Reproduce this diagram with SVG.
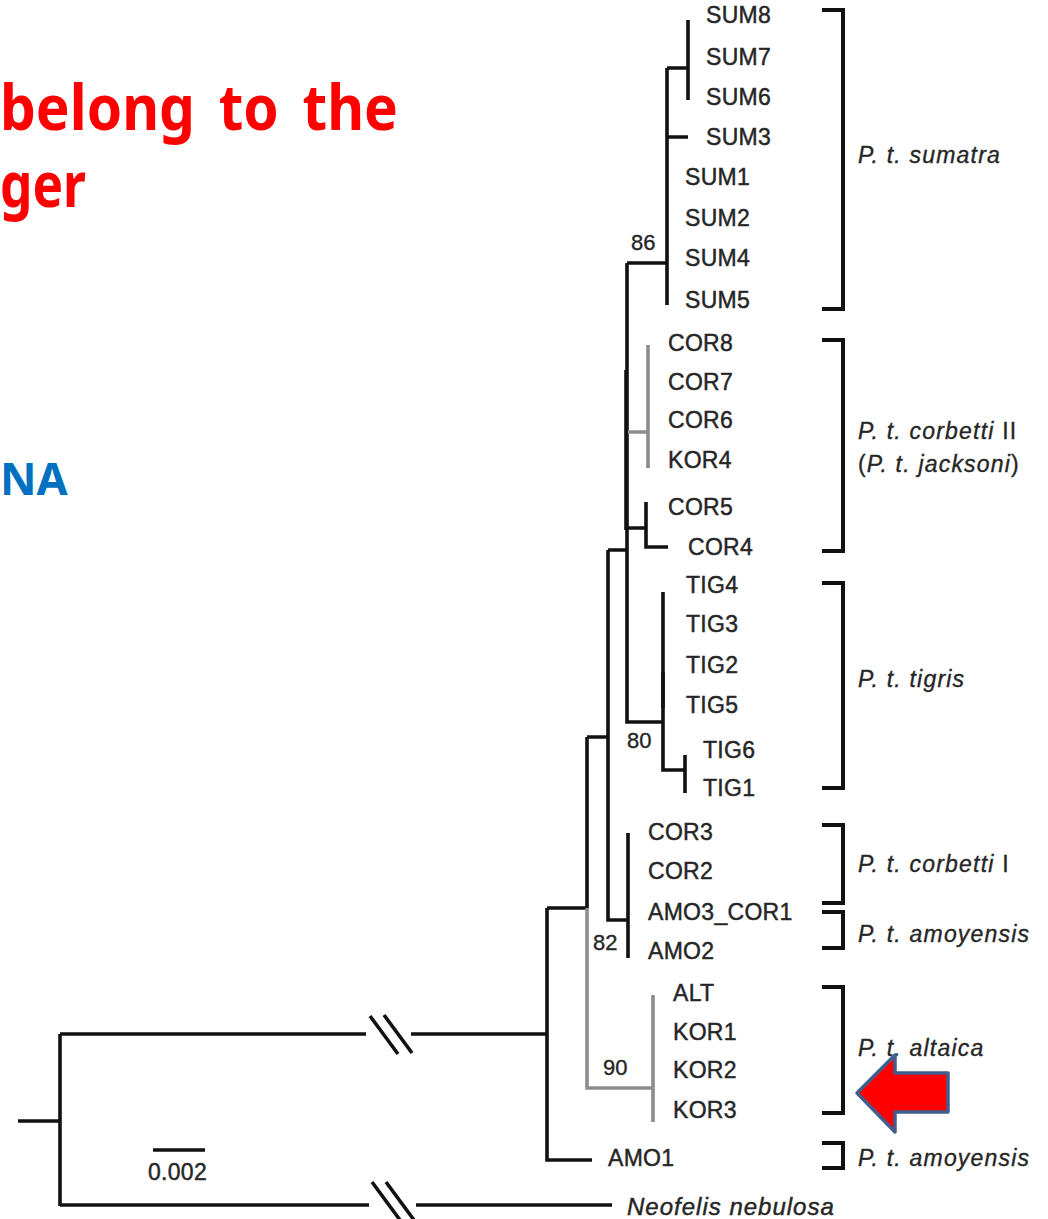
<svg xmlns="http://www.w3.org/2000/svg" width="1048" height="1219" viewBox="0 0 1048 1219">
<style>
.k{stroke:#111111;stroke-width:3.6;fill:none;stroke-linecap:butt;stroke-linejoin:miter}
.g{stroke:#8d8d8d;stroke-width:3.6;fill:none;stroke-linecap:butt}
.bk{stroke:#111111;stroke-width:4;fill:none;stroke-linejoin:miter}
.tx{font-family:"Liberation Sans",Arial,sans-serif;font-size:23px;fill:#262626;stroke:#262626;stroke-width:0.45px;letter-spacing:0.3px}
.sv{font-family:"Liberation Sans",Arial,sans-serif;font-size:22px;fill:#262626;stroke:#262626;stroke-width:0.35px}
.cl{font-family:"Liberation Sans",Arial,sans-serif;font-size:23px;fill:#262626;stroke:#262626;stroke-width:0.35px;font-style:italic;letter-spacing:1.2px}
.up{font-style:normal}
.hd{font-family:"Noto Sans","Liberation Sans",sans-serif;font-weight:bold;fill:#ff0000;font-size:63px}
</style>
<rect width="1048" height="1219" fill="#ffffff"/>

<g id="title">
<text class="hd" x="0" y="130" word-spacing="10" textLength="398" lengthAdjust="spacingAndGlyphs">belong to the</text>
<text class="hd" x="0" y="207" textLength="86" lengthAdjust="spacingAndGlyphs">ger</text>
<text x="0" y="495" font-family="'Noto Sans','Liberation Sans',sans-serif" font-weight="bold" font-size="45" fill="#0070c0">NA</text>
</g>

<g id="connectors">
<path class="k" d="M18,1121 H60 M60,1034 V1206 M60,1034 H366 M411,1034 H547 M60,1205 H369 M416,1205 H612"/>
<path class="k" d="M370,1016 L398,1054 M384,1015 L412,1053 M372,1182 L400,1220 M386,1182 L414,1220"/>
<path class="k" d="M547,908 V1160 H592 M547,908 H587 M587,737 V908 M587,737 H608 M608,550 V920 H628 M628,833 V958 M608,550 H627 M627,263 V722 H663"/>
<path class="g" d="M587,908 V1088 H653 M653,995 V1122"/>
<path class="k" d="M627,263 H667 M667,68 V305 M667,68 H688 M688,20 V100 M667,137 H688"/>
<path class="g" d="M627,432 H648 M648,345 V468"/>
<path class="k" d="M627,528 H646 M646,502 V547 H668"/>
<path class="k" d="M663,592 V770 H685 M685,755 V793"/>
<path class="k" stroke-width="7" d="M626,370 V530"/>
<path class="k" stroke-width="5.5" d="M663,672 V708"/>
<path class="k" stroke-width="4" d="M153,1150 H205"/>
</g>

<g id="support">
<text class="sv" x="631" y="250">86</text>
<text class="sv" x="627" y="748">80</text>
<text class="sv" x="593" y="950">82</text>
<text class="sv" x="603" y="1075">90</text>
<text class="tx" x="148" y="1180">0.002</text>
</g>

<g id="taxa">
<g id="n-SUM8"><text class="tx" x="706" y="23">SUM8</text></g>
<g id="n-SUM7"><text class="tx" x="706" y="65">SUM7</text></g>
<g id="n-SUM6"><text class="tx" x="706" y="105">SUM6</text></g>
<g id="n-SUM3"><text class="tx" x="706" y="145">SUM3</text></g>
<g id="n-SUM1"><text class="tx" x="685" y="185">SUM1</text></g>
<g id="n-SUM2"><text class="tx" x="685" y="226">SUM2</text></g>
<g id="n-SUM4"><text class="tx" x="685" y="266">SUM4</text></g>
<g id="n-SUM5"><text class="tx" x="685" y="308">SUM5</text></g>
<g id="n-COR8"><text class="tx" x="668" y="351">COR8</text></g>
<g id="n-COR7"><text class="tx" x="668" y="390">COR7</text></g>
<g id="n-COR6"><text class="tx" x="668" y="428">COR6</text></g>
<g id="n-KOR4"><text class="tx" x="668" y="468">KOR4</text></g>
<g id="n-COR5"><text class="tx" x="668" y="515">COR5</text></g>
<g id="n-COR4"><text class="tx" x="688" y="555">COR4</text></g>
<g id="n-TIG4"><text class="tx" x="686" y="593">TIG4</text></g>
<g id="n-TIG3"><text class="tx" x="686" y="632">TIG3</text></g>
<g id="n-TIG2"><text class="tx" x="686" y="673">TIG2</text></g>
<g id="n-TIG5"><text class="tx" x="686" y="713">TIG5</text></g>
<g id="n-TIG6"><text class="tx" x="703" y="758">TIG6</text></g>
<g id="n-TIG1"><text class="tx" x="703" y="796">TIG1</text></g>
<g id="n-COR3"><text class="tx" x="648" y="840">COR3</text></g>
<g id="n-COR2"><text class="tx" x="648" y="879">COR2</text></g>
<g id="n-AMO3_COR1"><text class="tx" x="648" y="920">AMO3_COR1</text></g>
<g id="n-AMO2"><text class="tx" x="648" y="959">AMO2</text></g>
<g id="n-ALT"><text class="tx" x="673" y="1001">ALT</text></g>
<g id="n-KOR1"><text class="tx" x="673" y="1040">KOR1</text></g>
<g id="n-KOR2"><text class="tx" x="673" y="1078">KOR2</text></g>
<g id="n-KOR3"><text class="tx" x="673" y="1118">KOR3</text></g>
<g id="n-AMO1"><text class="tx" x="608" y="1166">AMO1</text></g>
<g id="n-Neofelis"><text class="tx" x="627" y="1215" font-style="italic" style="font-size:24px;letter-spacing:1px">Neofelis nebulosa</text></g>
</g>

<g id="clades">
<g id="c-sumatra"><path class="bk" d="M822,10 H843 V309 H822"/><text class="cl" x="858" y="163">P. t. sumatra</text></g>
<g id="c-corbetti2"><path class="bk" d="M822,340 H843 V551 H822"/><text class="cl" x="858" y="439">P. t. corbetti <tspan class="up">II</tspan></text><text class="cl" x="858" y="472"><tspan class="up">(</tspan>P. t. jacksoni<tspan class="up">)</tspan></text></g>
<g id="c-tigris"><path class="bk" d="M822,583 H843 V788 H822"/><text class="cl" x="858" y="687">P. t. tigris</text></g>
<g id="c-corbetti1"><path class="bk" d="M822,825 H843 V903 H822"/><text class="cl" x="858" y="872">P. t. corbetti <tspan class="up">I</tspan></text></g>
<g id="c-amoyensis1"><path class="bk" d="M822,912 H843 V948 H822"/><text class="cl" x="858" y="942">P. t. amoyensis</text></g>
<g id="c-altaica"><path class="bk" d="M822,987 H843 V1113 H822"/><text class="cl" x="858" y="1056">P. t. altaica</text></g>
<g id="c-amoyensis2"><path class="bk" d="M822,1143 H843 V1168 H822"/><text class="cl" x="858" y="1166">P. t. amoyensis</text></g>
</g>

<g id="arrow">
<polygon points="857,1093 895,1055 895,1073 948,1073 948,1112 895,1112 895,1132" fill="#ff0000" stroke="#3f5f8f" stroke-width="3.5" stroke-linejoin="round"/>
</g>
</svg>
